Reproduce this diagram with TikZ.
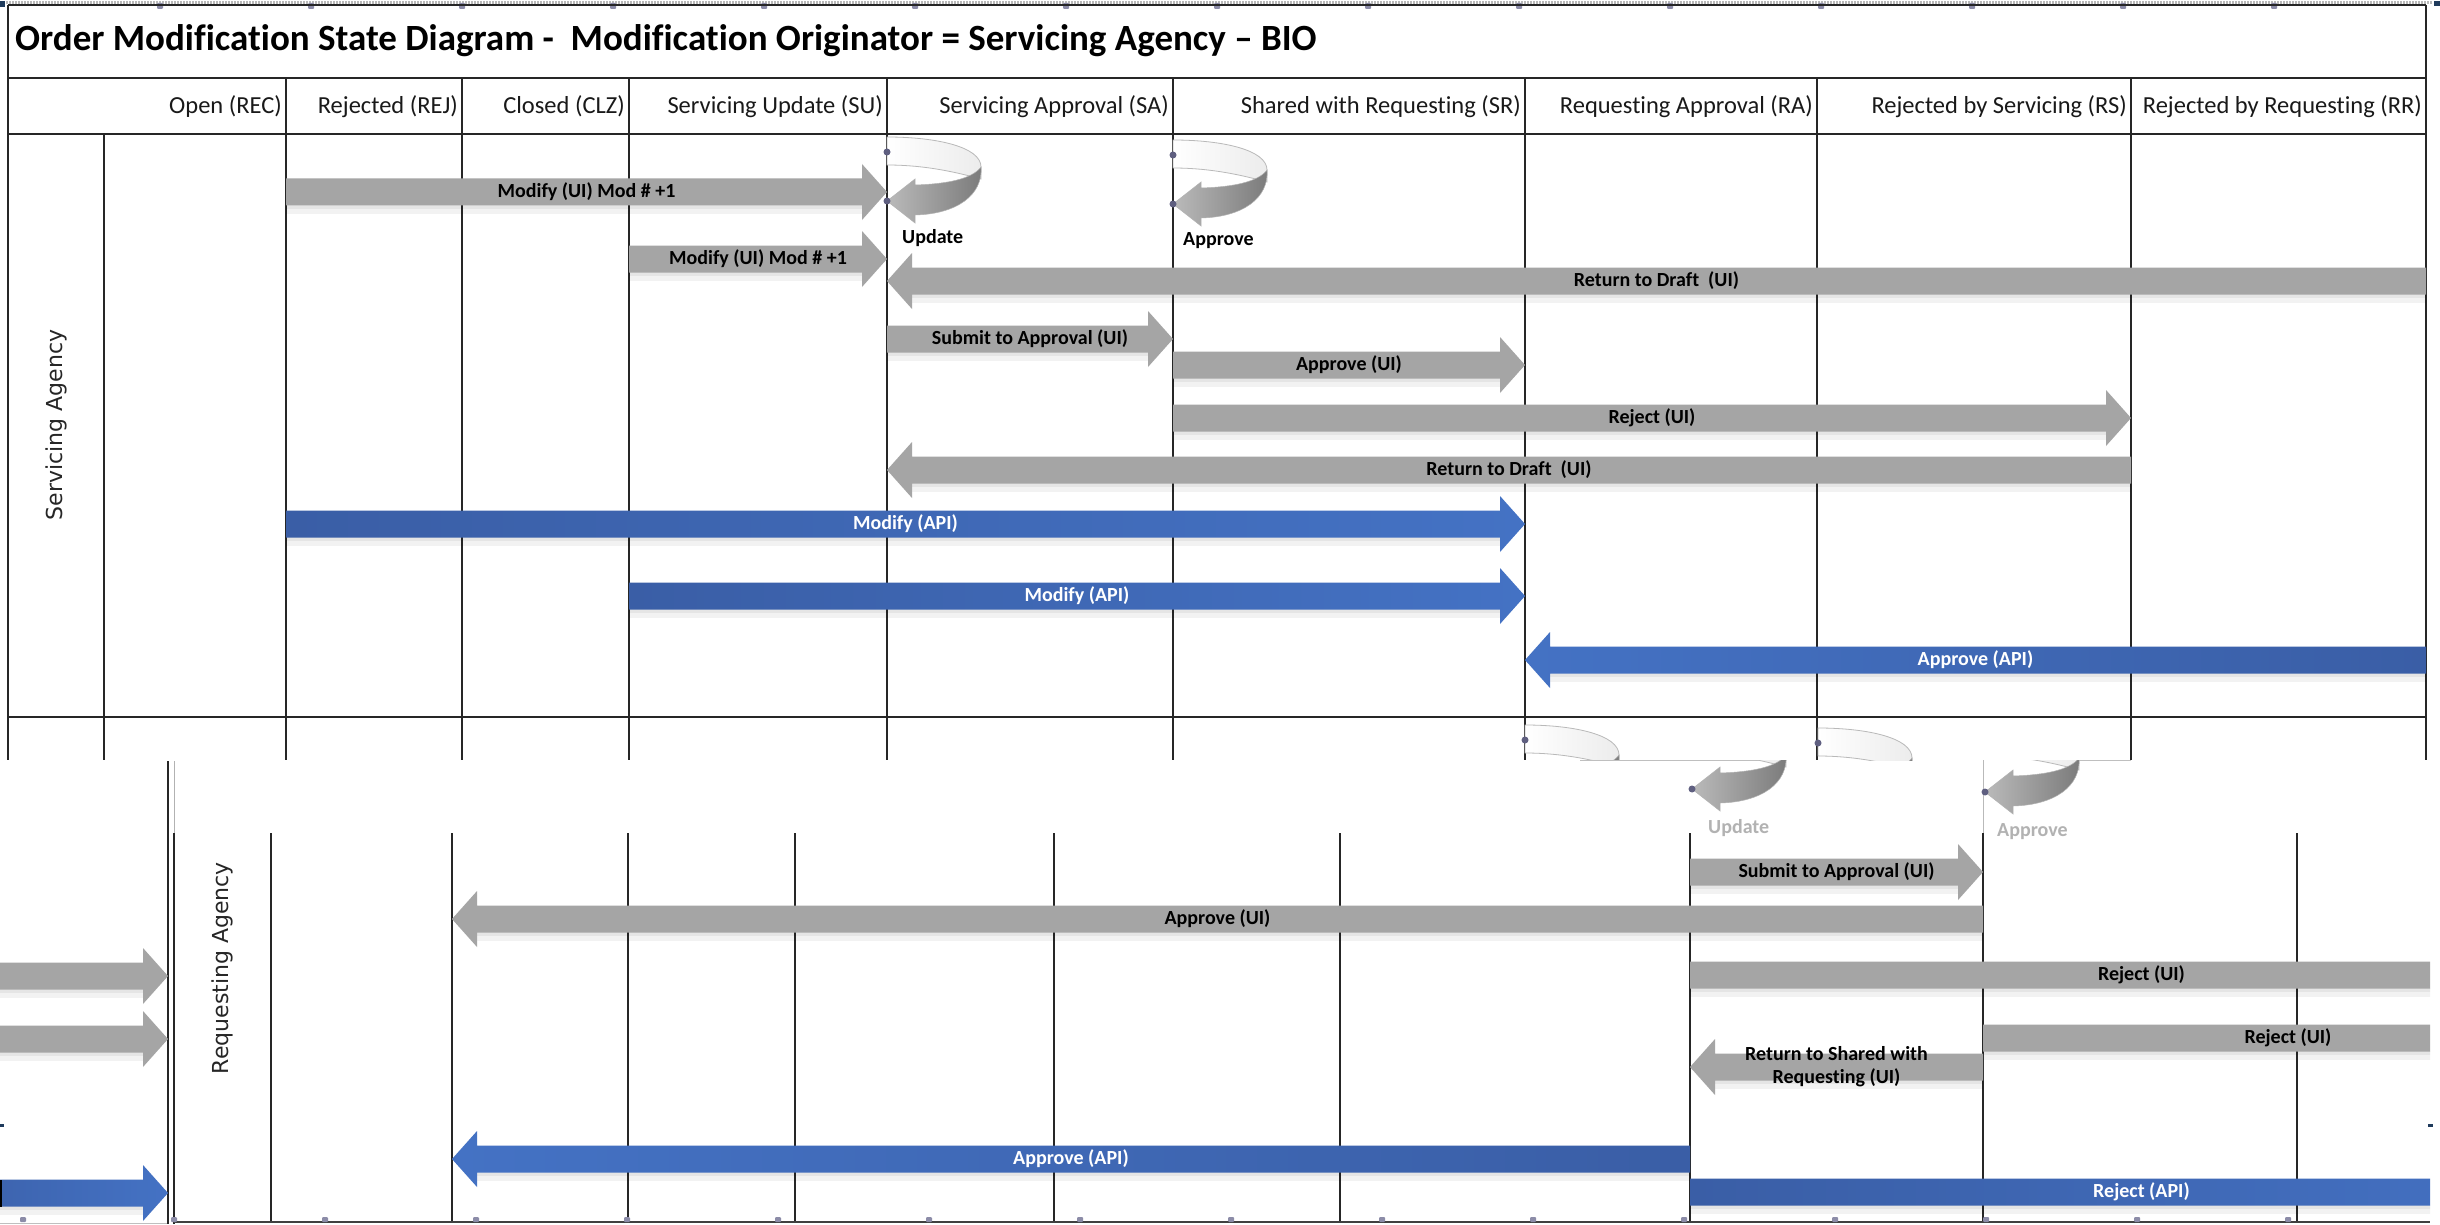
\documentclass[tikz,border=0pt]{standalone}
\usepackage{fontspec}
\setmainfont{Carlito}[Ligatures=NoCommon]
\newfontfamily\lanefont{DejaVu Sans}
\definecolor{arrowgray}{HTML}{A5A5A5}
\definecolor{blueDark}{HTML}{3A5EA6}
\definecolor{blueLight}{HTML}{4472C4}
\definecolor{handlec}{HTML}{5F5F80}
\definecolor{tickc}{HTML}{8C8CA8}
\definecolor{markblue}{HTML}{1F3B5C}

% block arrow: name, fill style, text colour, tail x, tip x, centre y, label
\newcommand\blockarrow[7]{%
  \pgfmathsetmacro\hb{#5-sign(#5-#4)*25}%
  \fill[black, opacity=.05] (#4,#6+13) rectangle (\hb,#6+22);
  \fill[black, opacity=.05] (#4,#6+13) rectangle (\hb,#6+17);
  \path[#2] (#4,#6-13.5) -- (\hb,#6-13.5) -- (\hb,#6-28) -- (#5,#6)
     -- (\hb,#6+28) -- (\hb,#6+13.5) -- (#4,#6+13.5) -- cycle;
  \node[lbl, text=#3] (#1) at ({(#4+#5)/2},#6) {#7};
}

% circular "stay in state" arrow, placed by its top-left corner
\newcommand\cyclearrow[2]{%
  \begin{scope}[shift={(#1,#2)}]
    \path[draw=gray!55, line width=0.8pt, left color=white, right color=gray!15]
      (0,0) .. controls (50,0) and (94,10) .. (94,30) -- (94,42)
      .. controls (72,36) and (40,28) .. (0,28) -- cycle;
    \path[draw=gray!60, line width=0.5pt, left color=black!27, right color=black!52]
      (94,30) .. controls (96,58) and (70,77) .. (28,78) -- (28,86) -- (0,64)
      -- (28,42) -- (28,48) .. controls (60,47) and (85,42) .. (94,30) -- cycle;
    \fill[handlec] (0,15) circle (3.5);
    \fill[handlec] (0,64) circle (3.5);
  \end{scope}}

\begin{document}
\begin{tikzpicture}[x=1pt, y=-1pt,
  grid/.style={line width=1.6pt, black!85},
  sep/.style={line width=2.6pt, black!85},
  hdr/.style={anchor=base east, inner sep=0pt, font=\fontsize{24.5}{28}\selectfont, text=black!90},
  lbl/.style={inner sep=0pt, font=\bfseries\fontsize{20}{24}\selectfont, align=center},
  lane/.style={rotate=90, inner sep=0pt, font=\lanefont\fontsize{22}{26}\selectfont, text=black!85},
  gfill/.style={fill=arrowgray},
  bluer/.style={left color=blueDark, right color=blueLight},
  bluel/.style={left color=blueLight, right color=blueDark},
  statelbl/.style={anchor=west, inner sep=0pt, font=\bfseries\fontsize{20}{24}\selectfont},
  ghost/.style={statelbl, text=gray!60}]

\useasboundingbox (0,0) rectangle (2440,1225);
\fill[white] (0,0) rectangle (2440,1225);

% selection frame along the top edge
\draw[gray!55, line width=2.5pt, dash pattern=on 1.5pt off 1.5pt] (6,2.5) -- (2432,2.5);
\foreach \t in {160,311,...,2280} \fill[tickc, rounded corners=1pt] (\t-3,3) rectangle (\t+3,9);
\fill[markblue] (0,1) rectangle (5,7);
\fill[markblue] (2434,1) rectangle (2440,6);

% ---------- upper table: title, header row, servicing lane ----------
\draw[grid] (8,5) -- (2426,5);
\draw[grid] (8,5) -- (8,760);
\draw[grid] (2426,5) -- (2426,760);
\draw[sep] (8,78) -- (2426,78);
\draw[sep] (8,134) -- (2426,134);
\draw[sep] (8,717) -- (2426,717);
\foreach \x in {286,462,629,887,1173,1525,1817,2131} \draw[grid] (\x,78) -- (\x,760);
\draw[grid] (104,134) -- (104,760);

\node[anchor=base west, inner sep=0pt, font=\bfseries\fontsize{37}{42}\selectfont] (title) at (15,51)
  {Order Modification State Diagram -\ \ Modification Originator = Servicing Agency – BIO};

\node[hdr] (hREC) at (282,114) {Open (REC)};
\node[hdr] (hREJ) at (458,114) {Rejected (REJ)};
\node[hdr] (hCLZ) at (625,114) {Closed (CLZ)};
\node[hdr] (hSU)  at (883,114) {Servicing Update (SU)};
\node[hdr] (hSA)  at (1169,114) {Servicing Approval (SA)};
\node[hdr] (hSR)  at (1521,114) {Shared with Requesting (SR)};
\node[hdr] (hRA)  at (1813,114) {Requesting Approval (RA)};
\node[hdr] (hRS)  at (2127,114) {Rejected by Servicing (RS)};
\node[hdr] (hRR)  at (2422,114) {Rejected by Requesting (RR)};

\node[lane] (laneS) at (56,425) {Servicing Agency};

\cyclearrow{887}{137}
\cyclearrow{1173}{140}
\node[statelbl] (stU) at (902,238) {Update};
\node[statelbl] (stA) at (1183,241) {Approve};

\blockarrow{a1}{gfill}{black}{286}{887}{192}{Modify (UI) Mod \# +1}
\blockarrow{a2}{gfill}{black}{629}{887}{259}{Modify (UI) Mod \# +1}
\blockarrow{a3}{gfill}{black}{2426}{887}{281}{Return to Draft\ \ (UI)}
\blockarrow{a4}{gfill}{black}{887}{1173}{339}{Submit to Approval (UI)}
\blockarrow{a5}{gfill}{black}{1173}{1525}{365}{Approve (UI)}
\blockarrow{a6}{gfill}{black}{1173}{2131}{418}{Reject (UI)}
\blockarrow{a7}{gfill}{black}{2131}{887}{470}{Return to Draft\ \ (UI)}
\blockarrow{a8}{bluer}{white}{286}{1525}{524}{Modify (API)}
\blockarrow{a9}{bluer}{white}{629}{1525}{596}{Modify (API)}
\blockarrow{a10}{bluel}{white}{2426}{1525}{660}{Approve (API)}

% tops of the requesting-lane cycle arrows
\begin{scope}
  \clip (1500,700) rectangle (2000,760);
  \cyclearrow{1525}{725}
  \cyclearrow{1818}{728}
\end{scope}

% ---------- requesting lane, shifted ----------
\draw[gray!50, line width=1pt] (1580,760) -- (1785,760);
\draw[gray!50, line width=1pt] (2079,760) -- (2131,760);
\draw[grid] (168,761) -- (168,1224);
\draw[gray!60, line width=1pt] (174,761) -- (174,833);
\draw[grid] (174,833) -- (174,1224);
\draw[gray!55, line width=1pt] (1983,760) -- (1983,833);
\foreach \x in {271,452,628,795,1054,1340,1690,1983,2297} \draw[grid] (\x,833) -- (\x,1222);
\draw[line width=2.5pt, black!75] (174,1222) -- (2430,1222);
\draw[gray!50, line width=1pt] (0,1223) -- (167,1223);
\foreach \t in {23,174,...,2290} \fill[tickc, rounded corners=1pt] (\t-3,1217) rectangle (\t+3,1222);

\node[lane] (laneR) at (222,968) {Requesting Agency};

\begin{scope}
  \clip (1600,760) rectangle (2200,900);
  \cyclearrow{1692}{725}
  \cyclearrow{1985}{728}
\end{scope}
\node[ghost] (stU2) at (1708,828) {Update};
\node[ghost] (stA2) at (1997,832) {Approve};

\begin{scope}
  \clip (0,760) rectangle (2430,1225);
  \blockarrow{b1}{gfill}{black}{1690}{1983}{872}{Submit to Approval (UI)}
  \blockarrow{b2}{gfill}{black}{1983}{452}{919}{Approve (UI)}
  \blockarrow{b3}{gfill}{black}{1690}{2593}{975}{Reject (UI)}
  \blockarrow{b4}{gfill}{black}{1983}{2593}{1038}{Reject (UI)}
  \blockarrow{b5}{gfill}{black}{1983}{1690}{1067}{Return to Shared with\\[-1pt]Requesting (UI)}
  \blockarrow{b6}{bluel}{white}{1690}{452}{1159}{Approve (API)}
  \blockarrow{b7}{bluer}{white}{1690}{2593}{1192}{Reject (API)}
  % arrow heads wrapped round to the left edge
  \blockarrow{w1}{gfill}{black}{-80}{168}{976}{}
  \blockarrow{w2}{gfill}{black}{-80}{168}{1039}{}
  \blockarrow{w3}{bluer}{white}{-80}{168}{1193}{}
\end{scope}
\fill[black] (0,1180) rectangle (2,1207);
\fill[markblue] (0,1124) rectangle (4,1127);
\fill[markblue] (2428,1124) rectangle (2433,1127);

\end{tikzpicture}
\end{document}
